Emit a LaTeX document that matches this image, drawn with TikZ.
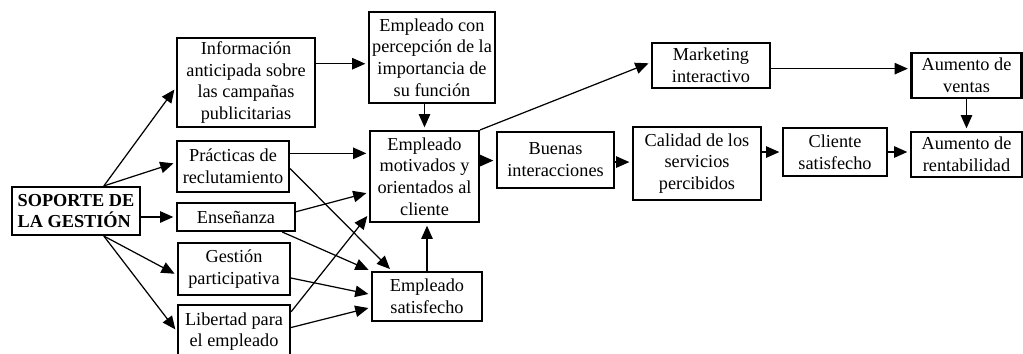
\documentclass[tikz,border=0pt]{standalone}
\usepackage{fontspec}
\setmainfont{Liberation Serif}
\usepackage{tikz}
\usetikzlibrary{arrows.meta,positioning}

\begin{document}
\begin{tikzpicture}[->,>={Triangle[length=7.5pt,width=6.5pt]},shorten >=1.5pt,
                    x=0.02cm,y=-0.02cm,line width=0.7pt,
                    box/.style={draw,line width=1.2pt,align=center,inner xsep=1pt,inner ysep=0pt,
                                font=\fontsize{10.4}{12.4}\selectfont}]

  \useasboundingbox (0,0) rectangle (1023,354);

  \node[box,align=left,minimum width=2.56cm,minimum height=0.96cm,font=\fontsize{10.4}{12.4}\selectfont\bfseries]
        at(76,211) (sop) {SOPORTE DE\\LA GESTIÓN};

  \node[box,minimum width=2.76cm,minimum height=1.78cm] at(246,82.5) (info) {Información\\anticipada sobre\\las campañas\\publicitarias};
  \node[box,minimum width=2.24cm,minimum height=1.02cm] at(233,166.5) (pract) {Prácticas de\\reclutamiento};
  \node[box,minimum width=2.36cm,minimum height=0.56cm] at(236,217) (ense) {Enseñanza};
  \node[box,minimum width=2.24cm,minimum height=1.04cm] at(234,269) (gest) {Gestión\\participativa};
  \node[box,minimum width=2.24cm,minimum height=1.06cm] at(234,331.5) (libert) {Libertad para\\el empleado};

  \node[box,minimum width=2.52cm,minimum height=1.82cm] at(432,57.5) (empcon) {Empleado con\\percepción de la\\importancia de\\su función};
  \node[box,minimum width=2.18cm,minimum height=1.82cm] at(424.5,176.5) (motiv) {Empleado\\motivados y\\orientados al\\cliente};
  \node[box,minimum width=2.2cm,minimum height=0.98cm] at(427,296.5) (satisf) {Empleado\\satisfecho};
  \node[box,minimum width=2.34cm,minimum height=1.12cm] at(555.5,160) (buenas) {Buenas\\interacciones};

  \node[box,minimum width=2.36cm,minimum height=0.9cm] at(711,65.5) (mkt) {Marketing\\interactivo};
  \node[box,minimum width=2.56cm,minimum height=1.46cm] at(697,163.5) (calidad) {Calidad de los\\servicios\\percibidos};
  \node[box,minimum width=2.08cm,minimum height=0.96cm] at(835,152) (cliente) {Cliente\\satisfecho};
  \node[box,minimum width=2.2cm,minimum height=0.9cm] at(966.5,75.5) (ventas) {Aumento de\\ventas};
  \node[box,minimum width=2.22cm,minimum height=0.9cm] at(966.5,154.5) (rentab) {Aumento de\\rentabilidad};

  \path (sop.42) edge (info.184)
        (sop.42) edge (pract.176)
        (sop.east |- ense.west) edge (ense.west)
        (sop.-42) edge (gest.186)
        (sop.-42) edge (libert.west)
        ;

  \path (info.15) edge (info.15 -| empcon.west)
        (pract.13) edge (pract.13 -| motiv.west)
        (pract.-2) edge (satisf.144)
        (ense.5) edge (motiv.196)
        (ense.-18) edge (satisf.north west)
        (gest.-9) edge (satisf.178)
        (libert.19) edge (motiv.214)
        (libert.4) edge (satisf.191)
        ;

  \path (motiv.north |- empcon.south) edge (motiv.north)
        (satisf.north) edge (satisf.north |- motiv.south)
        (motiv.16) edge (motiv.16 -| buenas.west)
        (motiv.north east) edge (mkt.177)
        (buenas.-2) edge (buenas.-2 -| calidad.west)
        (mkt.-3) edge (mkt.-3 -| ventas.west)
        (calidad.10) edge (calidad.10 -| cliente.west)
        (cliente.east) edge (cliente.east -| rentab.west)
        (ventas.south) edge (ventas.south |- rentab.north)
        ;

\end{tikzpicture}
\end{document}
